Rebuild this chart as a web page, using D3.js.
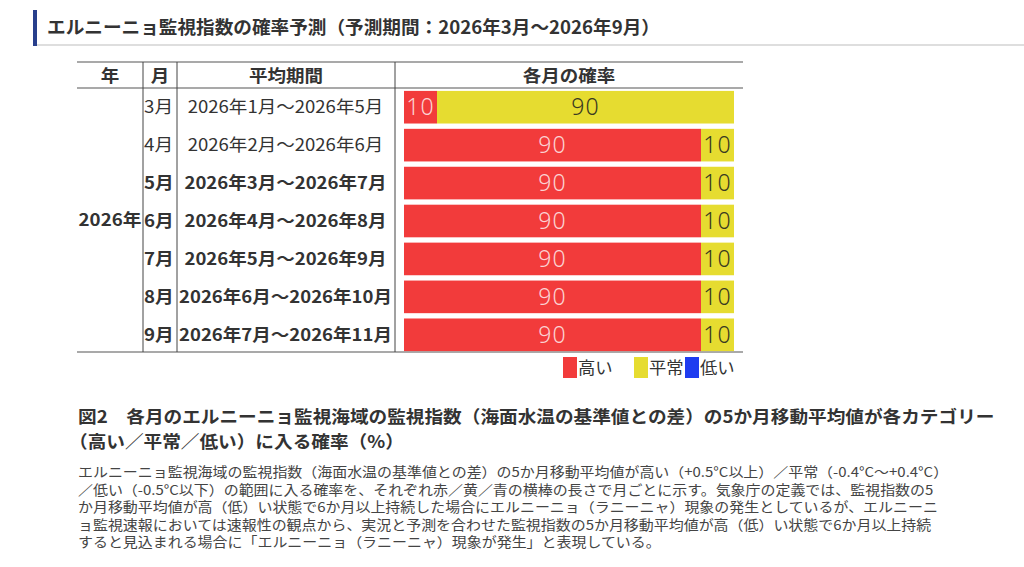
<!DOCTYPE html>
<html>
<head>
<meta charset="utf-8">
<title>エルニーニョ監視指数の確率予測</title>
<style>
  body { margin: 0; background: #fff; }
  svg { display: block; font-family: "Noto Sans CJK JP", "Noto Sans", sans-serif; }
</style>
</head>
<body>
<script src="https://cdn.jsdelivr.net/npm/d3@7"></script>
<script>
// データ
var yearLabel = "2026年";
var months = ["3月", "4月", "5月", "6月", "7月", "8月", "9月"];
var periods = ["2026年1月～2026年5月", "2026年2月～2026年6月", "2026年3月～2026年7月",
               "2026年4月～2026年8月", "2026年5月～2026年9月", "2026年6月～2026年10月",
               "2026年7月～2026年11月"];
var high   = [10, 90, 90, 90, 90, 90, 90];
var normal = [90, 10, 10, 10, 10, 10, 10];
var low    = [0, 0, 0, 0, 0, 0, 0];
var categories = ["高い", "平常", "低い"];
var headers = ["年", "月", "平均期間", "各月の確率"];

var titleText = "エルニーニョ監視指数の確率予測（予測期間：2026年3月～2026年9月）";
var captionLines = [
  "図2　各月のエルニーニョ監視海域の監視指数（海面水温の基準値との差）の5か月移動平均値が各カテゴリー",
  "（高い／平常／低い）に入る確率（%）"
];
var bodyLines = [
  "エルニーニョ監視海域の監視指数（海面水温の基準値との差）の5か月移動平均値が高い（+0.5°C以上）／平常（-0.4°C～+0.4°C）",
  "／低い（-0.5°C以下）の範囲に入る確率を、それぞれ赤／黄／青の横棒の長さで月ごとに示す。気象庁の定義では、監視指数の5",
  "か月移動平均値が高（低）い状態で6か月以上持続した場合にエルニーニョ（ラニーニャ）現象の発生としているが、エルニーニ",
  "ョ監視速報においては速報性の観点から、実況と予測を合わせた監視指数の5か月移動平均値が高（低）い状態で6か月以上持続",
  "すると見込まれる場合に「エルニーニョ（ラニーニャ）現象が発生」と表現している。"
];

var W = 1024, H = 567;
var colors = ["#f23b3b", "#e6dc30", "#1e3cf0"];
var textCol = "#333";

// 元の図は横に少し伸びているので文字幅を合わせる
function stretch(sel, f) {
  sel.each(function(){
    var L = this.getComputedTextLength();
    d3.select(this).attr("textLength", L * f).attr("lengthAdjust", "spacingAndGlyphs");
  });
}

var svg = d3.select("body").append("svg").attr("width", W).attr("height", H);

// 見出し
svg.append("rect").attr("x", 33).attr("y", 10).attr("width", 4).attr("height", 36).attr("fill", "#283f8c");
svg.append("rect").attr("x", 37).attr("y", 44).attr("width", W - 37).attr("height", 2).attr("fill", "#dedede");
svg.append("text").attr("x", 47).attr("y", 34)
   .attr("font-size", 18).attr("font-weight", "bold").attr("fill", textCol)
   .text(titleText)
   .call(stretch, 1.035);

// 表の枠
var tTop = 62, hBottom = 88, tBottom = 352, tLeft = 77, tRight = 743;
var colX = [tLeft, 143, 177, 395, tRight];

svg.selectAll(".hline").data([tTop, hBottom, tBottom]).enter().append("line")
   .attr("x1", tLeft).attr("x2", tRight)
   .attr("y1", function(d){ return d; }).attr("y2", function(d){ return d; })
   .attr("stroke", "#555").attr("stroke-width", 1.2);
svg.selectAll(".vline").data(colX.slice(1, 4)).enter().append("line")
   .attr("x1", function(d){ return d; }).attr("x2", function(d){ return d; })
   .attr("y1", tTop).attr("y2", tBottom)
   .attr("stroke", "#444").attr("stroke-width", 1);

// 見出し行
svg.selectAll(".hdr").data(headers).enter().append("text")
   .attr("x", function(d, i){ return (colX[i] + colX[i + 1]) / 2; })
   .attr("y", 82)
   .attr("text-anchor", "middle")
   .attr("font-size", 17).attr("font-weight", "bold").attr("fill", textCol)
   .text(function(d){ return d; })
   .call(stretch, 1.09);

// スケール
var x = d3.scaleLinear().domain([0, 100]).range([404, 734]);
var y = d3.scaleBand().domain(months).range([89, 353]).paddingInner(0.14).paddingOuter(0.05);

var rows = months.map(function(m, i){
  return { month: m, period: periods[i], high: high[i], normal: normal[i], low: low[i] };
});

// 年
svg.append("text").attr("x", (colX[0] + colX[1]) / 2).attr("y", (hBottom + tBottom) / 2 + 6)
   .attr("text-anchor", "middle").attr("font-size", 17).attr("font-weight", "bold").attr("fill", textCol)
   .text(yearLabel)
   .call(stretch, 1.1);

// 月・期間
svg.selectAll(".mon").data(rows).enter().append("text")
   .attr("x", colX[1] + 1)
   .attr("y", function(d){ return y(d.month) + y.bandwidth() / 2 + 6; })
   .attr("font-size", 17).attr("fill", textCol)
   .attr("font-weight", function(d, i){ return i >= 2 ? "bold" : "normal"; })
   .text(function(d){ return d.month; })
   .call(stretch, 1.1);

svg.selectAll(".per").data(rows).enter().append("text")
   .attr("x", (colX[2] + colX[3]) / 2 - 0.5)
   .attr("y", function(d){ return y(d.month) + y.bandwidth() / 2 + 6; })
   .attr("text-anchor", "middle")
   .attr("font-size", 17).attr("fill", textCol)
   .attr("font-weight", function(d, i){ return i >= 2 ? "bold" : "normal"; })
   .text(function(d){ return d.period; })
   .call(stretch, 1.09);

// 帯グラフ
var keys = ["high", "normal", "low"];
var series = d3.stack().keys(keys)(rows);

var layer = svg.selectAll(".layer").data(series).enter().append("g")
   .attr("fill", function(d, i){ return colors[i]; });

layer.selectAll("rect").data(function(d){ return d; }).enter().append("rect")
   .attr("x", function(d){ return x(d[0]); })
   .attr("y", function(d){ return y(d.data.month); })
   .attr("width", function(d){ return x(d[1]) - x(d[0]); })
   .attr("height", y.bandwidth());

layer.each(function(s, k){
  d3.select(this).selectAll("text").data(s.filter(function(d){ return d[1] - d[0] > 0; }))
    .enter().append("text")
    .attr("x", function(d){ return (x(d[0]) + x(d[1])) / 2; })
    .attr("y", function(d){ return y(d.data.month) + y.bandwidth() / 2 + 8; })
    .attr("text-anchor", "middle")
    .attr("font-size", 23).attr("font-weight", 300)
    .attr("letter-spacing", 1)
    .attr("font-family", "'Noto Sans', sans-serif")
    .attr("fill", k === 0 ? "#fbd2d2" : "#3a3a22")
    .text(function(d){ return d[1] - d[0]; });
});

// 凡例
var legX = [563, 634, 685];
var leg = svg.selectAll(".leg").data(categories).enter().append("g")
   .attr("transform", function(d, i){ return "translate(" + legX[i] + ",357)"; });
leg.append("rect").attr("width", 14).attr("height", 21)
   .attr("fill", function(d, i){ return colors[i]; });
leg.append("text").attr("x", 15).attr("y", 17)
   .attr("font-size", 16.5).attr("fill", textCol)
   .text(function(d){ return d; })
   .call(stretch, 1.05);

// 図の説明
svg.selectAll(".cap").data(captionLines).enter().append("text")
   .attr("x", function(d, i){ return i === 0 ? 78 : 69; })
   .attr("y", function(d, i){ return 423 + i * 25; })
   .attr("font-size", 17.5).attr("font-weight", "bold").attr("fill", textCol)
   .text(function(d){ return d; })
   .call(stretch, 1.065);

svg.selectAll(".body").data(bodyLines).enter().append("text")
   .attr("x", 78)
   .attr("y", function(d, i){ return 477 + i * 17.6; })
   .attr("font-size", 13.6).attr("fill", "#444")
   .text(function(d){ return d; })
   .call(stretch, 1.1);
</script>
</body>
</html>
